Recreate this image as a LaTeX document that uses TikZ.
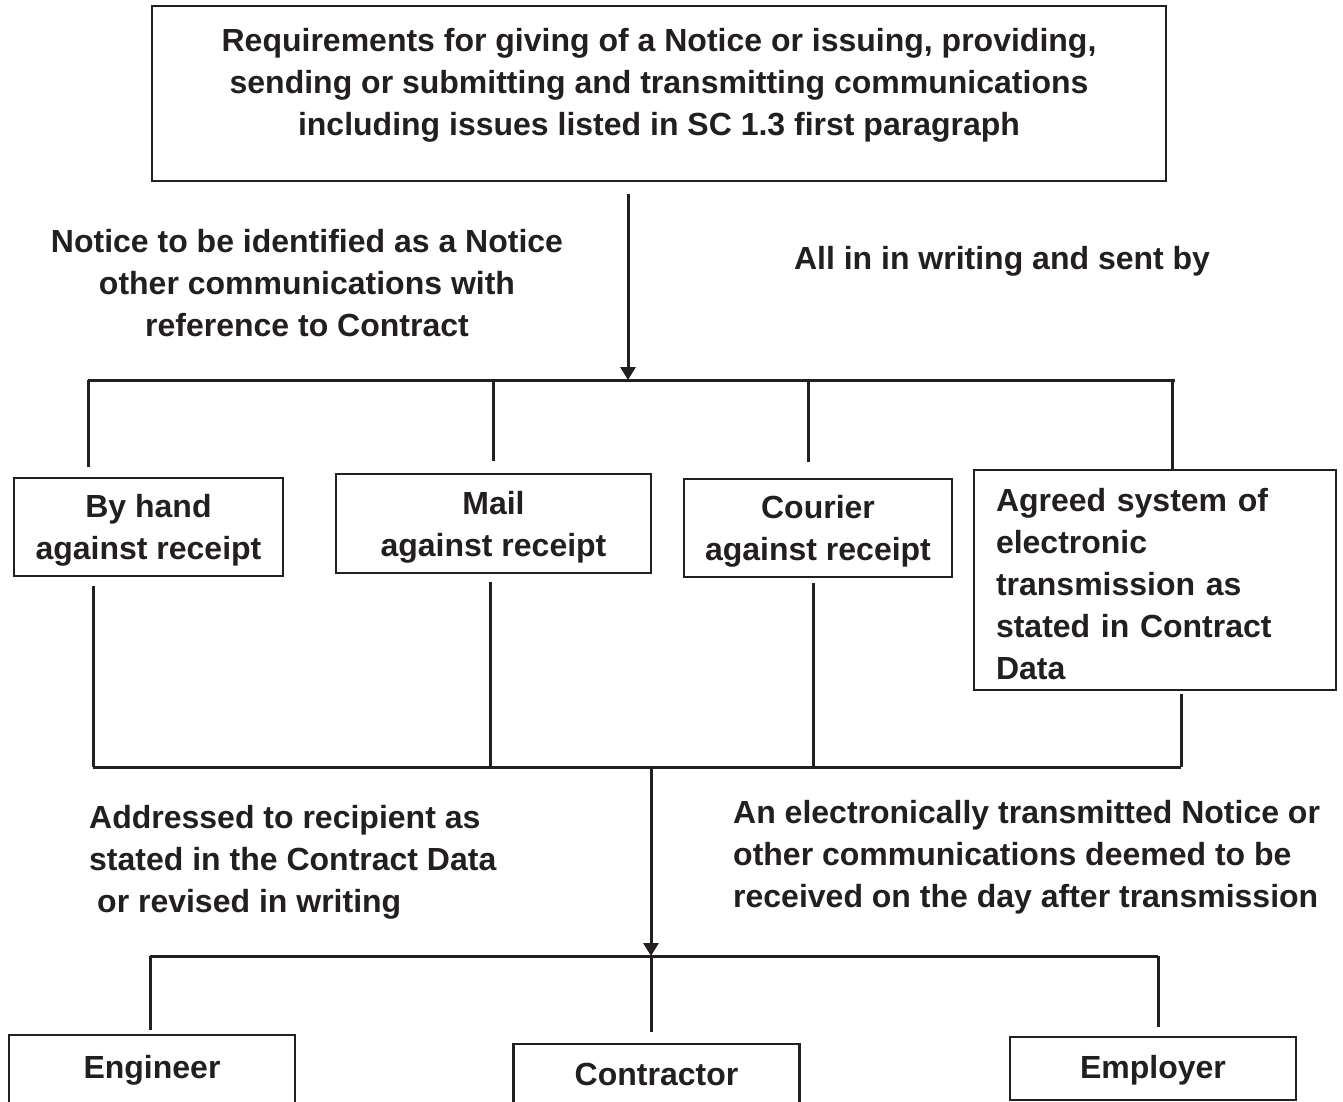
\documentclass[tikz,border=0pt]{standalone}
\usepackage{fontspec}
\setmainfont{Liberation Sans}
\usetikzlibrary{arrows.meta,positioning}
\definecolor{ink}{RGB}{35,31,32}

\begin{document}
\begin{tikzpicture}[x=1pt, y=-1pt,
        font=\fontsize{32}{42}\selectfont\bfseries, color=ink,
        frame/.style={draw, line width=2.2pt, inner sep=0pt},
        route/.style={frame, align=center, text depth=-3pt},
        party/.style={frame, anchor=north, minimum width=286pt, inner ysep=0pt},
        note/.style={inner sep=0pt},
        wire/.style={line width=3pt},
        feed/.style={wire, -{Triangle[length=13pt, width=15pt]}}
      ]
      \useasboundingbox (0,0) rectangle (1343,1102);

      \node[frame, minimum width=1014pt, minimum height=175pt] (req) at (659,93.5) {};
      \node[note, align=center] (reqtext) at (659,85) {Requirements for giving of a Notice or issuing, providing,\\sending or submitting and transmitting communications\\including issues listed in SC 1.3 first paragraph};

      \node[note, align=center] (ident) at (307,283) {Notice to be identified as a Notice\\other communications with\\reference to Contract};
      \node[note] (sent) at (1002,261) {All in in writing and sent by};

      \node[route, minimum width=269pt, minimum height=98pt] (hand) at (148.5,527) {By hand\\against receipt};
      \node[route, minimum width=315pt, minimum height=99pt] (mail) at (493.5,523.5) {Mail\\against receipt};
      \node[route, minimum width=268pt, minimum height=98pt] (courier) at (818,528) {Courier\\against receipt};
      \node[frame, text width=318pt, align=left, inner xsep=22pt, text height=32pt, minimum height=220pt] (edi) at (1155,580) {Agreed system of\\electronic\\transmission as\\stated in Contract\\Data};

      \node[note, align=left, anchor=west] (addr) at (89,862) {Addressed to recipient as\\stated in the Contract Data\\\hspace*{8pt}or revised in writing};
      \node[note, align=left, anchor=west] (elec) at (733,857) {An electronically transmitted Notice or\\other communications deemed to be\\received on the day after transmission};

      \node[party, text height=43.5pt, text depth=40pt] (eng) at (152,1034) {Engineer};
      \node[party, text height=41.5pt, text depth=40pt] (con) at (656.5,1043) {Contractor};
      \node[party, text height=41.5pt, text depth=21.5pt] (emp) at (1153,1036) {Employer};

      % sent by
      \coordinate (split) at (628,380);
      \coordinate (busA) at (88,380);
      \coordinate (busB) at (1175,380);
      \coordinate (mailA) at (493,380);
      \coordinate (courA) at (808,380);
      \coordinate (ediA) at (1172,380);
      \draw[feed, shorten <=12pt] (req.south -| split) -- (split);
      \draw[wire] (busA) -- (busB);
      \draw[wire, shorten >=10pt] (busA) -- (busA |- hand.north);
      \draw[wire, shorten >=12pt] (mailA) -- (mailA |- mail.north);
      \draw[wire, shorten >=16pt] (courA) -- (courA |- courier.north);
      \draw[wire] (ediA) -- (ediA |- edi.north);

      % addressed to
      \coordinate (busC) at (93,767);
      \coordinate (busD) at (1181,767);
      \coordinate (mailC) at (490,767);
      \coordinate (courC) at (813,767);
      \coordinate (join) at (651,767);
      \draw[wire] (busC) -- (busD);
      \draw[wire, shorten <=9pt] (hand.south -| busC) -- (busC);
      \draw[wire, shorten <=8pt] (mail.south -| mailC) -- (mailC);
      \draw[wire, shorten <=5pt] (courier.south -| courC) -- (courC);
      \draw[wire, shorten <=3pt] (edi.south -| busD) -- (busD);

      \coordinate (fan) at (651,956);
      \coordinate (busE) at (150,956);
      \coordinate (busF) at (1158,956);
      \draw[feed] (join) -- (fan);
      \draw[wire] (busE) -- (busF);
      \draw[wire, shorten >=4pt] (busE) -- (busE |- eng.north);
      \draw[wire, shorten >=11pt] (fan) -- (fan |- con.north);
      \draw[wire, shorten >=9pt] (busF) -- (busF |- emp.north);
    \end{tikzpicture}
\end{document}
